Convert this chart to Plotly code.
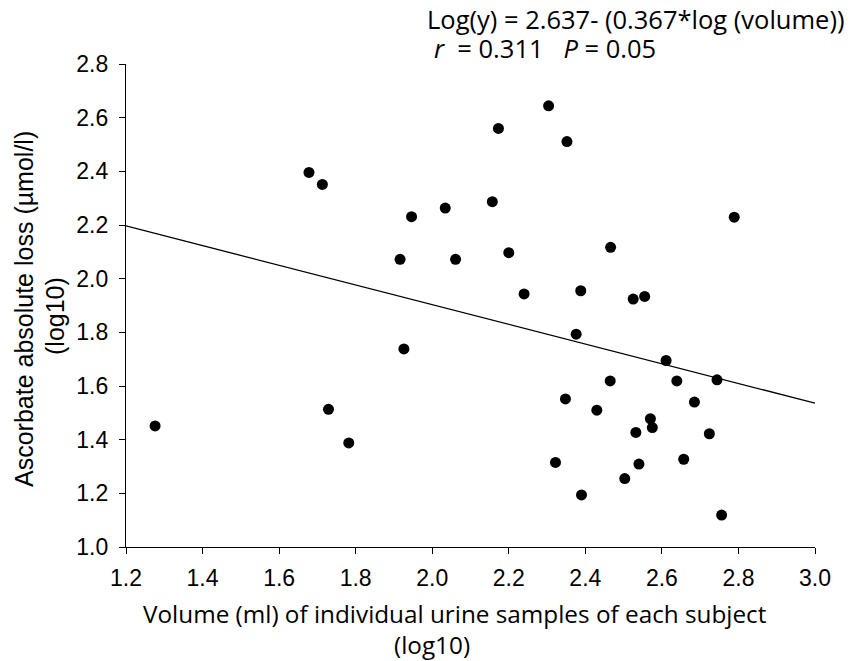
import plotly.graph_objects as go

# Data (log10 volume, log10 ascorbate loss)
volume_log = [1.276, 1.678, 1.713, 1.729, 1.782, 1.916, 1.926, 1.946, 2.034, 2.061,
              2.157, 2.173, 2.200, 2.240, 2.304, 2.322, 2.348, 2.352, 2.376, 2.388,
              2.390, 2.430, 2.465, 2.466, 2.503, 2.525, 2.532, 2.540, 2.555, 2.570,
              2.575, 2.611, 2.639, 2.657, 2.685, 2.724, 2.744, 2.756, 2.789]
loss_log = [1.451, 2.396, 2.351, 1.513, 1.388, 2.072, 1.738, 2.231, 2.263, 2.072,
            2.287, 2.560, 2.097, 1.943, 2.644, 1.315, 1.552, 2.511, 1.793, 1.955,
            1.194, 1.510, 1.619, 2.117, 1.255, 1.924, 1.427, 1.309, 1.934, 1.478,
            1.445, 1.695, 1.619, 1.327, 1.540, 1.422, 1.623, 1.119, 2.229]

fit_intercept = 2.637
fit_slope = 0.367
fit_x = [1.2, 3.0]
fit_y = [fit_intercept - fit_slope * v for v in fit_x]

x_ticks = [1.2, 1.4, 1.6, 1.8, 2.0, 2.2, 2.4, 2.6, 2.8, 3.0]
y_ticks = [1.0, 1.2, 1.4, 1.6, 1.8, 2.0, 2.2, 2.4, 2.6, 2.8]

W, H = 861, 661
L, R, T, B = 126, 46, 64, 114
PW, PH = W - L - R, H - T - B

def px(x):
    return (x - L) / PW

def py(y):
    return (H - B - y) / PH

fig = go.Figure()
fig.add_trace(go.Scatter(x=fit_x, y=fit_y, mode="lines",
                         line=dict(color="black", width=1.3),
                         showlegend=False, hoverinfo="skip"))
fig.add_trace(go.Scatter(x=volume_log, y=loss_log, mode="markers",
                         marker=dict(color="black", size=11),
                         showlegend=False))

axis_common = dict(showgrid=False, zeroline=False, showline=True, linecolor="black",
                   linewidth=1.3, ticks="outside", ticklen=6, tickcolor="black",
                   tickwidth=1.3, tickformat=".1f",
                   tickfont=dict(family="Liberation Sans, Arial", size=23, color="black"))

fig.update_xaxes(range=[1.2, 3.0], tickvals=x_ticks, ticklabelstandoff=4, **axis_common)
fig.update_yaxes(range=[1.0, 2.8], tickvals=y_ticks, ticklabelstandoff=6, **axis_common)

cal = "Open Sans, Calibri, sans-serif"
annots = [
    dict(text="Log(y) = 2.637- (0.367*log (volume))", x=px(425), y=py(19),
         xanchor="left", yanchor="middle", font=dict(family=cal, size=25.5, color="black")),
    dict(text="<i>r</i>\u00a0\u00a0= 0.311\u00a0\u00a0\u00a0<i>P</i> = 0.05", x=px(432), y=py(48),
         xanchor="left", yanchor="middle", font=dict(family=cal, size=25.5, color="black")),
    dict(text="Volume (ml) of individual urine samples of each subject", x=px(455), y=py(613),
         xanchor="center", yanchor="middle", font=dict(family=cal, size=24.3, color="black")),
    dict(text="(log10)", x=px(432), y=py(644),
         xanchor="center", yanchor="middle", font=dict(family=cal, size=24.3, color="black")),
    dict(text="Ascorbate absolute loss (µmol/l)", x=px(24), y=py(309), textangle=-90,
         xanchor="center", yanchor="middle",
         font=dict(family="Liberation Sans, Arial", size=25, color="black")),
    dict(text="(log10)", x=px(55), y=py(316), textangle=-90,
         xanchor="center", yanchor="middle",
         font=dict(family="Liberation Sans, Arial", size=25, color="black")),
]
for a in annots:
    a.update(xref="paper", yref="paper", showarrow=False)

fig.update_layout(width=W, height=H, margin=dict(l=L, r=R, t=T, b=B),
                  paper_bgcolor="white", plot_bgcolor="white",
                  annotations=annots)

fig.write_html("out.html")
